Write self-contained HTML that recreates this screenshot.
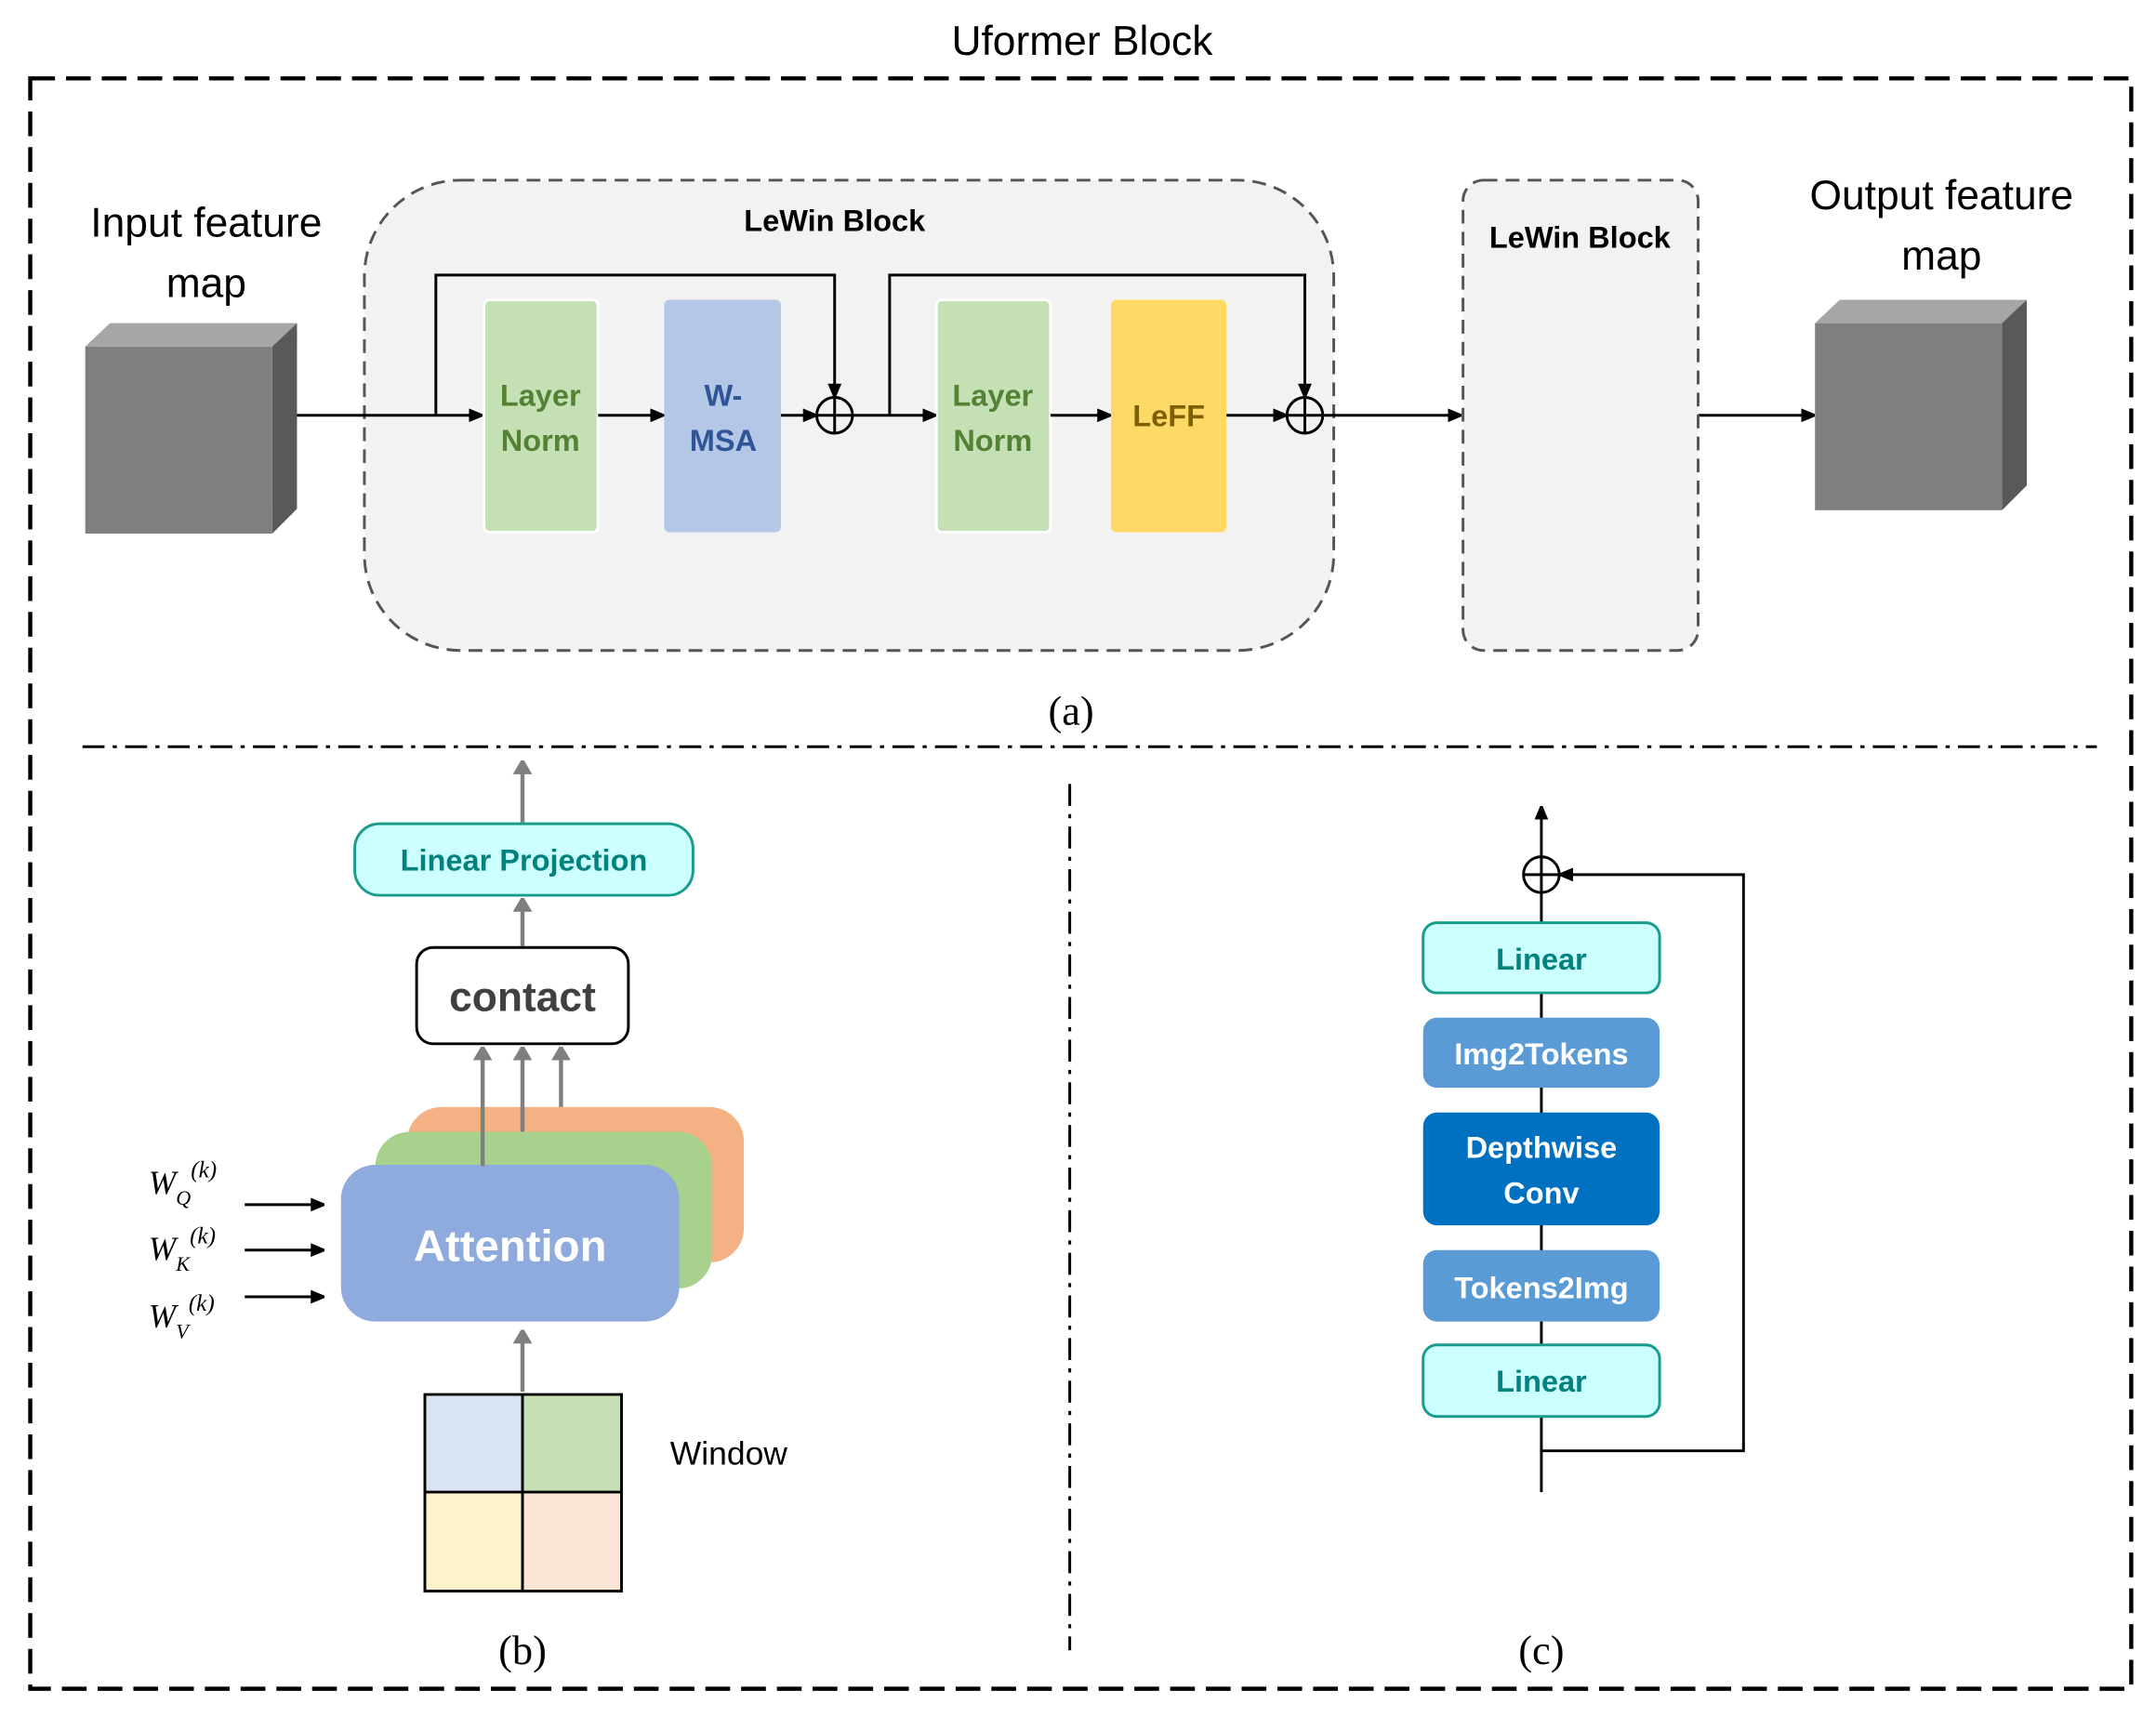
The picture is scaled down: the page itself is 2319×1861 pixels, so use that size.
<!DOCTYPE html>
<html><head><meta charset="utf-8"><style>
html,body{margin:0;padding:0;background:#fff;}
svg{display:block;}
text{font-family:"Liberation Sans",sans-serif;}
.t{font-family:"Liberation Serif",serif;}
</style></head><body>
<svg width="2319" height="1861" viewBox="0 0 1568 1258" preserveAspectRatio="none" xmlns="http://www.w3.org/2000/svg">
<defs>
<marker id="ab" markerWidth="10" markerHeight="10" refX="9" refY="5" orient="auto" markerUnits="userSpaceOnUse"><path d="M0,0 L12,5 L0,10 z" fill="#000"/></marker>
<marker id="ag" markerWidth="10" markerHeight="14" refX="9" refY="7" orient="auto" markerUnits="userSpaceOnUse"><path d="M0,0 L12,7 L0,14 z" fill="#7f7f7f"/></marker>
</defs>
<rect width="1568" height="1258" fill="#fff"/>
<text x="787" y="40" font-size="30" text-anchor="middle" fill="#000">Uformer Block</text>
<rect x="22" y="57" width="1528" height="1171" fill="none" stroke="#000" stroke-width="3" stroke-dasharray="18,8"/>

<text x="150" y="172" font-size="30" text-anchor="middle">Input feature</text>
<text x="150" y="216" font-size="30" text-anchor="middle">map</text>
<polygon points="62,252 80,235 216,235 198,252" fill="#a6a6a6"/>
<polygon points="198,252 216,235 216,370 198,388" fill="#595959"/>
<rect x="62" y="252" width="136" height="136" fill="#7f7f7f"/>

<rect x="265" y="131" width="705" height="342" rx="70" fill="#f2f2f2" stroke="#555" stroke-width="2" stroke-dasharray="10,6"/>
<text x="607" y="168" font-size="22" font-weight="bold" text-anchor="middle">LeWin Block</text>

<rect x="352" y="218" width="83" height="169" rx="4" fill="#c5e0b4" stroke="#fff" stroke-width="2"/>
<text x="393" y="295" font-size="22" font-weight="bold" fill="#548235" text-anchor="middle">Layer</text>
<text x="393" y="328" font-size="22" font-weight="bold" fill="#548235" text-anchor="middle">Norm</text>
<rect x="483" y="218" width="85" height="169" rx="4" fill="#b4c7e7"/>
<text x="526" y="295" font-size="22" font-weight="bold" fill="#2f5597" text-anchor="middle">W-</text>
<text x="526" y="328" font-size="22" font-weight="bold" fill="#2f5597" text-anchor="middle">MSA</text>
<rect x="681" y="218" width="83" height="169" rx="4" fill="#c5e0b4" stroke="#fff" stroke-width="2"/>
<text x="722" y="295" font-size="22" font-weight="bold" fill="#548235" text-anchor="middle">Layer</text>
<text x="722" y="328" font-size="22" font-weight="bold" fill="#548235" text-anchor="middle">Norm</text>
<rect x="808" y="218" width="84" height="169" rx="4" fill="#ffd966"/>
<text x="850" y="310" font-size="22" font-weight="bold" fill="#7f6000" text-anchor="middle">LeFF</text>

<g stroke="#000" stroke-width="2" fill="none">
<circle cx="607" cy="302" r="13"/><path d="M594,302H620M607,289V315"/>
<circle cx="949" cy="302" r="13"/><path d="M936,302H962M949,289V315"/>
<path d="M216,302H350" marker-end="url(#ab)"/>
<path d="M317,302V200H607V288" marker-end="url(#ab)"/>
<path d="M435,302H482" marker-end="url(#ab)"/>
<path d="M568,302H593" marker-end="url(#ab)"/>
<path d="M620,302H680" marker-end="url(#ab)"/>
<path d="M647,302V200H949V288" marker-end="url(#ab)"/>
<path d="M764,302H807" marker-end="url(#ab)"/>
<path d="M892,302H935" marker-end="url(#ab)"/>
<path d="M962,302H1062" marker-end="url(#ab)"/>
<path d="M1235,302H1319" marker-end="url(#ab)"/>
</g>

<rect x="1064" y="131" width="171" height="342" rx="15" fill="#f2f2f2" stroke="#555" stroke-width="2" stroke-dasharray="10,6"/>
<text x="1149" y="180" font-size="22" font-weight="bold" text-anchor="middle">LeWin Block</text>

<text x="1412" y="152" font-size="30" text-anchor="middle">Output feature</text>
<text x="1412" y="196" font-size="30" text-anchor="middle">map</text>
<polygon points="1320,235 1338,218 1474,218 1456,235" fill="#a6a6a6"/>
<polygon points="1456,235 1474,218 1474,353 1456,371" fill="#595959"/>
<rect x="1320" y="235" width="136" height="136" fill="#7f7f7f"/>

<text class="t" x="779" y="527" font-size="30" text-anchor="middle">(a)</text>
<path d="M60,543H1525" stroke="#000" stroke-width="2" stroke-dasharray="16,6,3,6"/>
<path d="M778,570V1200" stroke="#000" stroke-width="2" stroke-dasharray="16,6,3,6"/>

<!-- (b) -->
<g stroke="#7f7f7f" stroke-width="3" fill="none">
<path d="M380,598V554" marker-end="url(#ag)"/>
<path d="M380,688V654" marker-end="url(#ag)"/>
</g>
<rect x="258" y="599" width="246" height="52" rx="18" fill="#ccffff" stroke="#1a9c8c" stroke-width="2"/>
<text x="381" y="633" font-size="22" font-weight="bold" fill="#00827f" text-anchor="middle">Linear Projection</text>
<rect x="303" y="689" width="154" height="70" rx="12" fill="#fff" stroke="#000" stroke-width="2"/>
<text x="380" y="735" font-size="30" font-weight="bold" fill="#404040" text-anchor="middle">contact</text>

<rect x="296" y="805" width="245" height="113" rx="25" fill="#f4b183"/>
<rect x="273" y="823" width="245" height="114" rx="25" fill="#a9d18e"/>
<rect x="248" y="847" width="246" height="114" rx="25" fill="#8faadc"/>
<text x="371" y="917" font-size="32" font-weight="bold" fill="#fff" text-anchor="middle">Attention</text>
<g stroke="#7f7f7f" stroke-width="3" fill="none">
<path d="M351,848V762" marker-end="url(#ag)"/>
<path d="M380,823V762" marker-end="url(#ag)"/>
<path d="M408,805V762" marker-end="url(#ag)"/>
<path d="M380,1012V968" marker-end="url(#ag)"/>
</g>
<g class="t" font-style="italic">
<text class="t" x="108" y="868" font-size="24" font-style="italic">W<tspan font-size="15" dy="8">Q</tspan><tspan font-size="17" dy="-20">(k)</tspan></text>
<text class="t" x="108" y="916" font-size="24" font-style="italic">W<tspan font-size="15" dy="8">K</tspan><tspan font-size="17" dy="-20">(k)</tspan></text>
<text class="t" x="108" y="965" font-size="24" font-style="italic">W<tspan font-size="15" dy="8">V</tspan><tspan font-size="17" dy="-20">(k)</tspan></text>
</g>
<g stroke="#000" stroke-width="2" fill="none">
<path d="M178,876H235" marker-end="url(#ab)"/>
<path d="M178,909H235" marker-end="url(#ab)"/>
<path d="M178,943H235" marker-end="url(#ab)"/>
</g>
<rect x="309" y="1014" width="71" height="71" fill="#dae3f3"/>
<rect x="380" y="1014" width="72" height="71" fill="#c5e0b4"/>
<rect x="309" y="1085" width="71" height="72" fill="#fff2cc"/>
<rect x="380" y="1085" width="72" height="72" fill="#fbe5d6"/>
<path d="M309,1014H452V1157H309ZM380,1014V1157M309,1085H452" fill="none" stroke="#000" stroke-width="2"/>
<text x="530" y="1065" font-size="24" text-anchor="middle">Window</text>
<text class="t" x="380" y="1210" font-size="30" text-anchor="middle">(b)</text>

<!-- (c) -->
<g stroke="#000" stroke-width="2" fill="none">
<path d="M1121,1085V587" marker-end="url(#ab)"/>
<path d="M1121,1055H1268V636H1135" marker-end="url(#ab)"/>
<circle cx="1121" cy="636" r="13" fill="#fff"/><path d="M1108,636H1134M1121,623V649"/>
</g>
<rect x="1035" y="671" width="172" height="51" rx="10" fill="#ccffff" stroke="#1a9c8c" stroke-width="2"/>
<text x="1121" y="705" font-size="22" font-weight="bold" fill="#00827f" text-anchor="middle">Linear</text>
<rect x="1035" y="740" width="172" height="51" rx="10" fill="#5b9bd5"/>
<text x="1121" y="774" font-size="22" font-weight="bold" fill="#fff" text-anchor="middle">Img2Tokens</text>
<rect x="1035" y="809" width="172" height="82" rx="10" fill="#0070c0"/>
<text x="1121" y="842" font-size="22" font-weight="bold" fill="#fff" text-anchor="middle">Depthwise</text>
<text x="1121" y="875" font-size="22" font-weight="bold" fill="#fff" text-anchor="middle">Conv</text>
<rect x="1035" y="909" width="172" height="52" rx="10" fill="#5b9bd5"/>
<text x="1121" y="944" font-size="22" font-weight="bold" fill="#fff" text-anchor="middle">Tokens2Img</text>
<rect x="1035" y="978" width="172" height="52" rx="10" fill="#ccffff" stroke="#1a9c8c" stroke-width="2"/>
<text x="1121" y="1012" font-size="22" font-weight="bold" fill="#00827f" text-anchor="middle">Linear</text>
<text class="t" x="1121" y="1210" font-size="30" text-anchor="middle">(c)</text>
</svg>
</body></html>
